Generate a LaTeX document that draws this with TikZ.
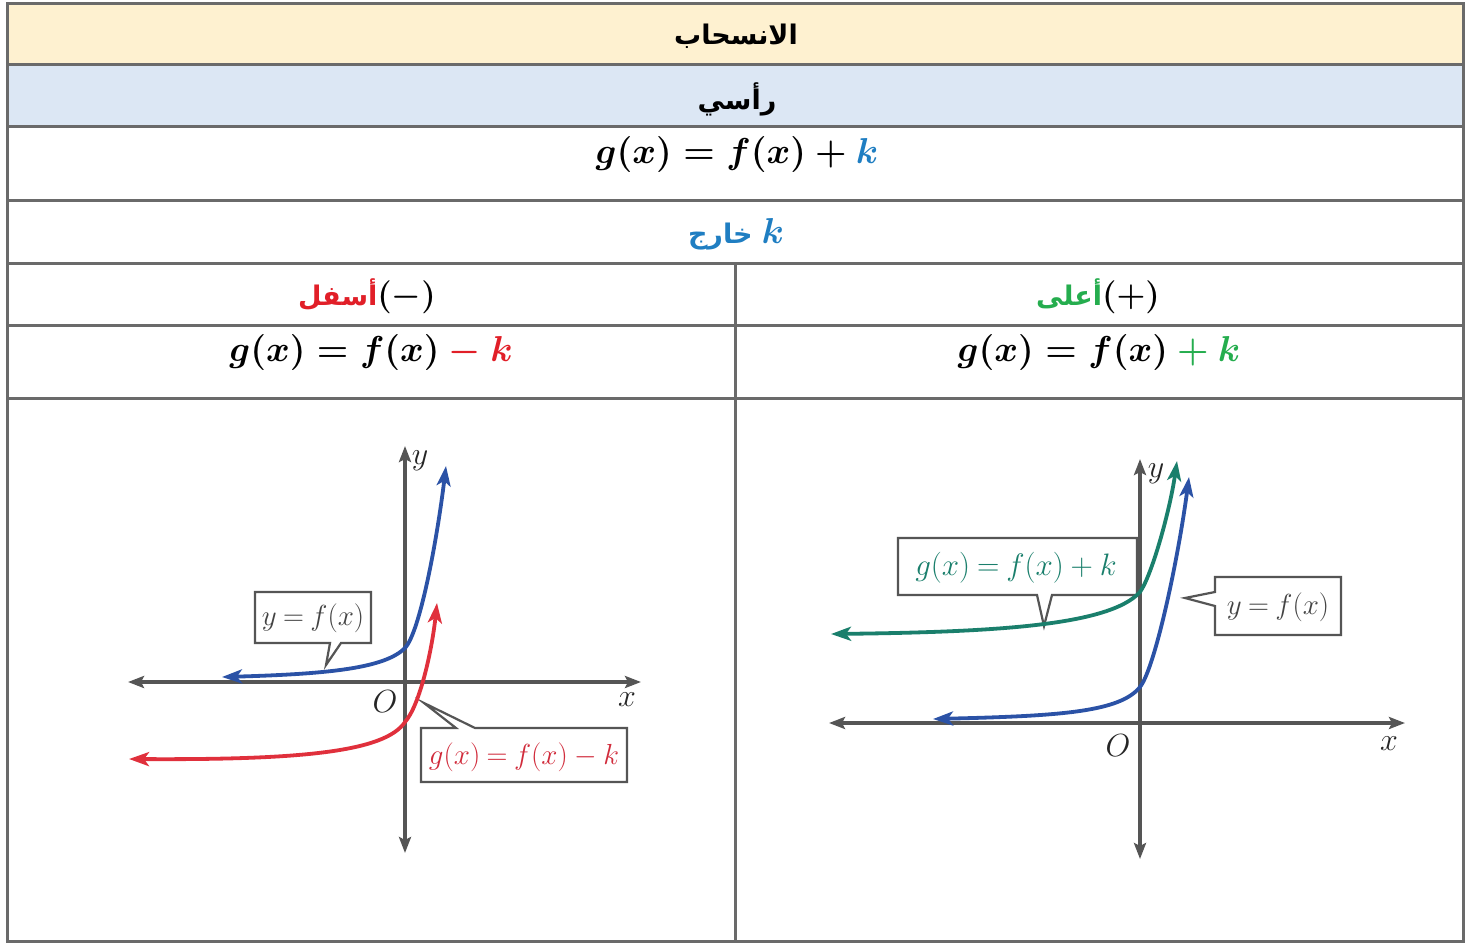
\RequirePackage{fix-cm}
\documentclass[tikz,border=0pt]{standalone}
\usepackage{fontspec}
\usepackage{amsmath}
\usetikzlibrary{arrows.meta}
\TeXXeTstate=1
\newfontfamily\arabicfont[Script=Arabic]{DejaVu Sans}
\newcommand\tightmath{\thickmuskip=4mu\relax\medmuskip=4mu\relax}
\definecolor{hdrc}{HTML}{FEF1D0}
\definecolor{subc}{HTML}{DCE7F4}
\definecolor{gridc}{HTML}{6A6A6A}
\definecolor{kblue}{HTML}{1F7EC2}
\definecolor{kred}{HTML}{E11F28}
\definecolor{kgreen}{HTML}{25AD4E}
\definecolor{axisc}{HTML}{555555}
\definecolor{cblue}{HTML}{2B52A6}
\definecolor{cred}{HTML}{E0303C}
\definecolor{cteal}{HTML}{1A7F6C}
\definecolor{boxc}{HTML}{555555}
\definecolor{lblgray}{HTML}{444444}
\definecolor{lblred}{HTML}{D12B3B}
\begin{document}
\begin{tikzpicture}[x=1pt,y=-1pt,
  gridline/.style={draw=gridc, line width=3pt},
  axis/.style={draw=axisc, line width=3.3pt,
    {Stealth[length=16pt,width=12pt,inset=3pt]}-{Stealth[length=16pt,width=12pt,inset=3pt]}},
  curve/.style={line width=3.8pt,
    {Stealth[length=20pt,width=14pt,inset=5pt]}-{Stealth[length=20pt,width=14pt,inset=5pt]}},
  callout/.style={draw=boxc, line width=2.2pt, fill=white, line join=miter},
  lbl/.style={inner sep=0pt, font=\fontsize{29}{34}\selectfont\tightmath},
  axlbl/.style={inner sep=0pt, font=\fontsize{32}{36}\selectfont, text=black!85},
  artxt/.style={inner sep=0pt, font=\arabicfont\bfseries\fontsize{27}{32}\selectfont},
  mtxt/.style={inner sep=0pt, font=\fontsize{36}{42}\selectfont\boldmath}
]
\path[use as bounding box] (0,0) rectangle (1470,946);
\fill[white] (0,0) rectangle (1470,946);
% table fills
\fill[hdrc] (7,3) rectangle (1463,64);
\fill[subc] (7,64) rectangle (1463,126);
% table lines
\draw[gridline] (7,3) rectangle (1463,941);
\foreach \yy in {64,126,200,263,325,398} \draw[gridline] (7,\yy) -- (1463,\yy);
\draw[gridline] (735,263) -- (735,941);

% texts
\node[artxt] (hdrT) at (736,36) {\beginR الانسحاب\endR};
\node[artxt] (subT) at (737,99) {\beginR رأسي\endR};
\node[mtxt] (f1) at (737,154) {$g(x) = f(x) + {\color{kblue}k}$};
\node[inner sep=0pt, text=kblue] (kT) at (736,234)
  {{\arabicfont\bfseries\fontsize{27}{32}\selectfont\beginR خارج\endR}\hspace{9pt}{\fontsize{36}{42}\selectfont\boldmath$k$}};
\node[inner sep=0pt] (downT) at (367,296)
  {{\arabicfont\bfseries\fontsize{27}{32}\selectfont\color{kred}\beginR أسفل\endR}{\fontsize{33}{38}\selectfont\boldmath$(-)$}};
\node[inner sep=0pt] (upT) at (1098,296)
  {{\arabicfont\bfseries\fontsize{27}{32}\selectfont\color{kgreen}\beginR أعلى\endR}{\fontsize{33}{38}\selectfont\boldmath$(+)$}};
\node[mtxt] (fL) at (371,352) {$g(x) = f(x) {\color{kred}{}- k}$};
\node[mtxt] (fR) at (1099,352) {$g(x) = f(x) {\color{kgreen}{}+ k}$};

% ---------- left graph ----------
\draw[callout] (255,592) -- (371,592) -- (371,643) -- (341,643) -- (326,665) -- (330,643) -- (255,643) -- cycle;
\node[lbl, text=lblgray] (lblA) at (313,618) {$y = f(x)$};
\draw[callout] (421,728) -- (456,728) -- (424,703) -- (475,728) -- (627,728) -- (627,782) -- (421,782) -- cycle;
\node[lbl, text=lblred] (lblB) at (524,757) {$g(x) = f(x) - k$};

\coordinate (LxL) at (128,682); \coordinate (LxR) at (641,682);
\coordinate (LyT) at (405,446); \coordinate (LyB) at (405,853);
\draw[axis] (LxL) -- (LxR);
\draw[axis] (LyB) -- (LyT);
\node[axlbl] (Ly) at (420,461) {$y$};
\node[axlbl] (Lx) at (627,700) {$x$};
\node[axlbl] (LO) at (385,702) {$O$};

\coordinate (Lb1) at (222,677); \coordinate (Lb2) at (405,648); \coordinate (Lb3) at (446,466);
\draw[curve, cblue] (Lb1) .. controls (330,674) and (385,668) .. (Lb2)
  .. controls (420,632) and (437,540) .. (Lb3);
\coordinate (Lr1) at (129,759); \coordinate (Lr2) at (405,722); \coordinate (Lr3) at (437,603);
\draw[curve, cred] (Lr1) .. controls (300,760) and (385,752) .. (Lr2)
  .. controls (420,705) and (432,650) .. (Lr3);

% ---------- right graph ----------
\draw[callout] (898,538) -- (1137,538) -- (1137,595) -- (1052,595) -- (1044,626) -- (1037,595) -- (898,595) -- cycle;
\node[lbl, text=cteal, font=\fontsize{31}{36}\selectfont\tightmath] (lblC) at (1016,568) {$g(x) = f(x) + k$};
\draw[callout] (1215,577) -- (1341,577) -- (1341,635) -- (1215,635) -- (1215,606) -- (1185,598) -- (1215,592) -- cycle;
\node[lbl, text=lblgray] (lblD) at (1278,607) {$y = f(x)$};

\coordinate (RxL) at (829,723); \coordinate (RxR) at (1405,723);
\coordinate (RyT) at (1140,459); \coordinate (RyB) at (1140,859);
\draw[axis] (RxL) -- (RxR);
\draw[axis] (RyB) -- (RyT);
\node[axlbl] (Ry) at (1156,474) {$y$};
\node[axlbl] (Rx) at (1389,744) {$x$};
\node[axlbl] (RO) at (1118,746) {$O$};

\coordinate (Rb1) at (933,719); \coordinate (Rb2) at (1140,687); \coordinate (Rb3) at (1189,477);
\draw[curve, cblue] (Rb1) .. controls (1060,716) and (1120,712) .. (Rb2)
  .. controls (1155,668) and (1178,560) .. (Rb3);
\coordinate (Rg1) at (831,634); \coordinate (Rg2) at (1140,592); \coordinate (Rg3) at (1177,461);
\draw[curve, cteal] (Rg1) .. controls (1000,632) and (1110,625) .. (Rg2)
  .. controls (1152,575) and (1170,510) .. (Rg3);
\end{tikzpicture}
\end{document}
